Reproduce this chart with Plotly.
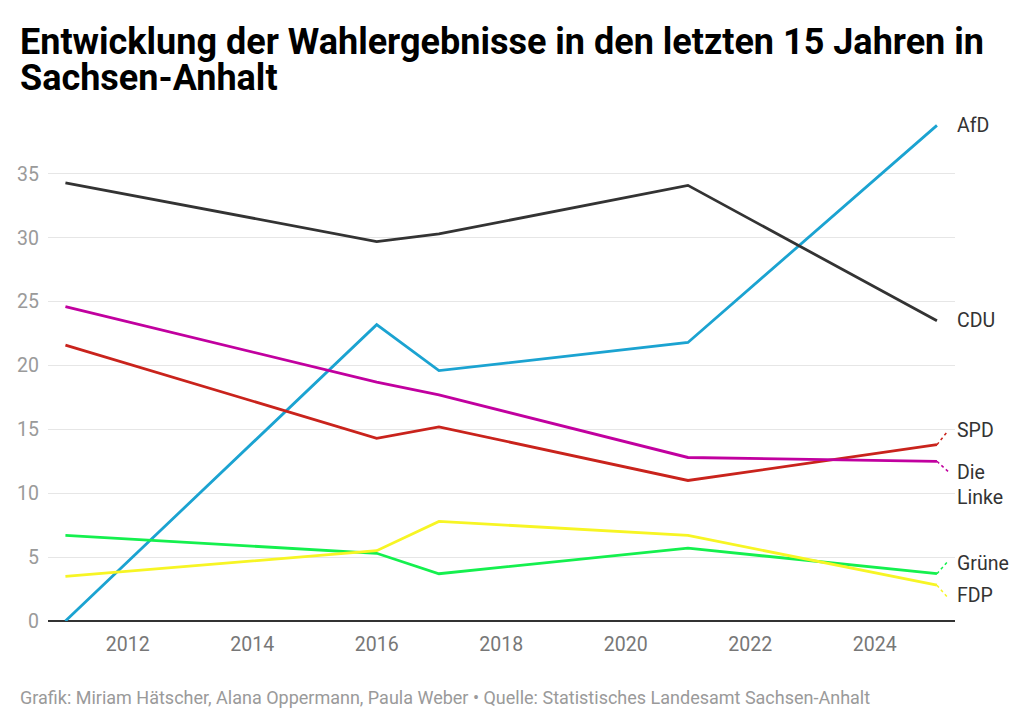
import plotly.graph_objects as go

# Wahljahre und Ergebnisse (%)
jahre = [2011, 2016, 2017, 2021, 2025]
afd = [0.0, 23.2, 19.6, 21.8, 38.8]
cdu = [34.3, 29.7, 30.3, 34.1, 23.5]
linke = [24.6, 18.7, 17.7, 12.8, 12.5]
spd = [21.6, 14.3, 15.2, 11.0, 13.8]
gruene = [6.7, 5.3, 3.7, 5.7, 3.7]
fdp = [3.5, 5.5, 7.8, 6.7, 2.8]

parteien = ['AfD', 'CDU', 'SPD', 'Die<br>Linke', 'Grüne', 'FDP']
werte = [afd, cdu, spd, linke, gruene, fdp]
farben = ['#1ba3d1', '#333333', '#c9231c', '#c1009f', '#14f04e', '#f7f524']
# label positions at the right edge (value units), pushed apart where they would overlap
label_y = [38.8, 23.5, 14.9, 10.65, 4.5, 2.0]
connector_y = [38.8, 23.5, 14.9, 11.7, 4.7, 1.8]

titel = ['Entwicklung der Wahlergebnisse in den letzten 15 Jahren in', 'Sachsen-Anhalt']
quelle = 'Grafik: Miriam Hätscher, Alana Oppermann, Paula Weber • Quelle: Statistisches Landesamt Sachsen-Anhalt'

fig = go.Figure()

for name, vals, col in zip(parteien, werte, farben):
    fig.add_trace(go.Scatter(
        x=jahre, y=vals, mode='lines', name=name,
        line=dict(color=col, width=2.8),
        hoverinfo='skip', showlegend=False
    ))

annotations = []
shapes = []
for name, vals, col, ly, cy in zip(parteien, werte, farben, label_y, connector_y):
    annotations.append(dict(
        x=1, xref='paper', y=ly, yref='y', text=name,
        xanchor='left', yanchor='middle', xshift=0,
        showarrow=False, align='left',
        font=dict(family='Roboto', size=19.5, color='#333333')
    ))
    if abs(cy - vals[-1]) > 0.5:
        shapes.append(dict(
            type='line', xref='x', yref='y',
            x0=jahre[-1], y0=vals[-1], x1=jahre[-1] + 0.18, y1=cy,
            line=dict(color=col, width=1.5, dash='dot')
        ))

# title as two lines with tighter spacing than plotly's <br>
for zeile, ypos in zip(titel, [1 + 68 / 511, 1 + 32 / 511]):
    annotations.append(dict(
        x=-30 / 907, xref='paper', xanchor='left',
        y=ypos, yref='paper', yanchor='middle',
        showarrow=False, text='<b>' + zeile + '</b>',
        font=dict(family='Roboto', size=36, color='#000000'),
    ))

# footer (page body has an 8px margin, figure coords are shifted accordingly)
annotations.append(dict(
    x=-30 / 907, xref='paper', xanchor='left',
    y=-76 / 511, yref='paper', yanchor='middle',
    showarrow=False, text=quelle,
    font=dict(family='Roboto', size=18, color='#9a9a9a'),
))

fig.update_layout(
    width=1024, height=725,
    paper_bgcolor='white', plot_bgcolor='white',
    margin=dict(l=40, r=77, t=102, b=112, autoexpand=False),
    xaxis=dict(
        range=[2010.72, 2025.29], tickvals=[2012, 2014, 2016, 2018, 2020, 2022, 2024],
        showgrid=False, zeroline=False, showline=False, ticks='',
        ticklabelstandoff=9,
        tickfont=dict(family='Roboto', size=19.5, color='#777777')
    ),
    yaxis=dict(
        range=[0, 40], tickvals=[0, 5, 10, 15, 20, 25, 30, 35],
        showgrid=True, gridcolor='#e6e6e6', gridwidth=1,
        zeroline=True, zerolinecolor='#333333', zerolinewidth=2,
        showline=False, ticks='', ticklabelstandoff=8,
        tickfont=dict(family='Roboto', size=19.5, color='#9a9a9a')
    ),
    annotations=annotations,
    shapes=shapes,
)

fig.write_html('out.html')
